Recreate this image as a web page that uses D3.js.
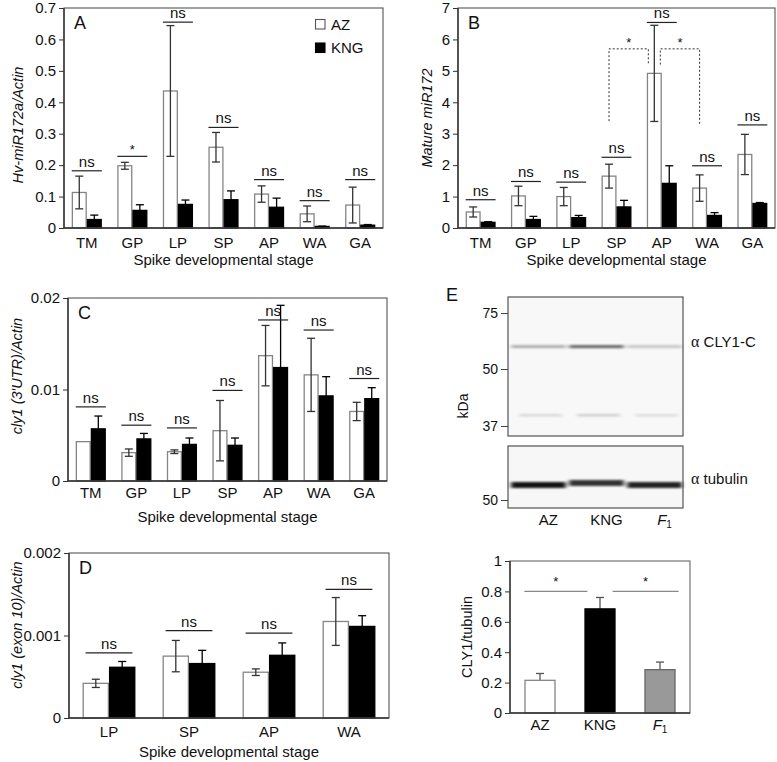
<!DOCTYPE html>
<html><head><meta charset="utf-8">
<script src="https://cdn.jsdelivr.net/npm/d3@7"></script>
<style>
body{margin:0;background:#fff;}
svg{display:block;font-family:'Liberation Sans',Arial,Helvetica,sans-serif;}
</style></head>
<body><svg id="c" width="777" height="762"></svg>
<script>
// ---------------- DATA ----------------
const stages7 = ["TM","GP","LP","SP","AP","WA","GA"];
const stages4 = ["LP","SP","AP","WA"];
const genotypes = ["AZ","KNG"];

// Panel A: Hv-miR172a/Actin
const aAZ     = [0.113,0.198,0.436,0.257,0.108,0.045,0.073];
const aAZse   = [0.052,0.011,0.208,0.047,0.026,0.025,0.057];
const aKNG    = [0.027,0.056,0.075,0.090,0.066,0.005,0.009];
const aKNGse  = [0.014,0.018,0.014,0.028,0.029,0.001,0.002];
const aSigY   = [0.182,0.228,0.655,0.32,0.154,0.087,0.154];
const aSig    = ["ns","*","ns","ns","ns","ns","ns"];
const aTicks  = [0,0.1,0.2,0.3,0.4,0.5,0.6,0.7];

// Panel B: Mature miR172
const bAZ     = [0.51,1.02,1.00,1.65,4.92,1.27,2.34];
const bAZse   = [0.16,0.31,0.29,0.38,1.53,0.42,0.64];
const bKNG    = [0.18,0.27,0.33,0.67,1.42,0.40,0.78];
const bKNGse  = [0.02,0.10,0.07,0.21,0.56,0.09,0.03];
const bSigY   = [0.90,1.48,1.46,2.25,6.54,1.98,3.28];
const bSig    = ["ns","ns","ns","ns","ns","ns","ns"];
const bTicks  = [0,1,2,3,4,5,6,7];
// dotted brackets (AZ comparisons): [from, to, lowFrom, lowTo, top, label]
const bBrackets = [["SP","AP",3.4,5.2,5.7,"*"],["AP","WA",5.2,3.3,5.7,"*"]];

// Panel C: cly1 (3'UTR)/Actin
const cAZ     = [0.0043,0.0031,0.0032,0.0055,0.0137,0.0116,0.0076];
const cAZse   = [0,0.0004,0.0002,0.0033,0.0033,0.0040,0.0010];
const cKNG    = [0.0057,0.0046,0.0040,0.0039,0.0124,0.0093,0.0090];
const cKNGse  = [0.0014,0.0006,0.0007,0.0008,0.0068,0.0021,0.0012];
const cSigY   = [0.0081,0.0061,0.0058,0.0099,0.0176,0.0165,0.0112];
const cSig    = ["ns","ns","ns","ns","ns","ns","ns"];
const cTicks  = [0,0.01,0.02];

// Panel D: cly1 (exon 10)/Actin
const dAZ     = [0.00042,0.00075,0.000555,0.00117];
const dAZse   = [0.00005,0.00019,0.00004,0.00029];
const dKNG    = [0.000615,0.00066,0.00076,0.00111];
const dKNGse  = [0.00007,0.00016,0.00015,0.00013];
const dSigY   = [0.00079,0.00106,0.00103,0.00156];
const dSig    = ["ns","ns","ns","ns"];
const dTicks  = [0,0.001,0.002];

// Panel E: western blot + quantification
const lanes       = ["AZ","KNG","F1"];
const band60      = [0.30,0.60,0.20];   // CLY1-C band intensity
const band39      = [0.14,0.18,0.12];   // lower faint band
const bandTub     = [0.92,0.80,0.86];   // tubulin band
const kdaTicksTop = [75,50,37];
const kdaTicksBot = [50];
const eVal   = [0.215,0.685,0.285];
const eSe    = [0.045,0.075,0.050];
const eTicks = [0,0.2,0.4,0.6,0.8,1];
const eSig   = [["AZ","KNG",0.8,"*"],["KNG","F1",0.8,"*"]];

// ---------------- DRAWING ----------------
const svg = d3.select("#c");
const FS = 15;
const fmt = d3.format("~g");

function frame(g,x0,x1,y0,y1,col){
  g.append("rect").attr("x",x0).attr("y",y0).attr("width",x1-x0).attr("height",y1-y0)
   .attr("fill","none").attr("stroke",col||"#555").attr("stroke-width",1.1);
  g.append("line").attr("x1",x0).attr("x2",x0).attr("y1",y0).attr("y2",y1).attr("stroke","#333").attr("stroke-width",1.4);
  g.append("line").attr("x1",x0).attr("x2",x1).attr("y1",y1).attr("y2",y1).attr("stroke","#333").attr("stroke-width",1.4);
}

function yAxis(g,y,x0,ticks,fmtf){
  const ax = g.append("g").attr("transform",`translate(${x0},0)`)
   .call(d3.axisLeft(y).tickValues(ticks).tickFormat(fmtf||fmt).tickSize(5).tickPadding(3));
  ax.select(".domain").remove();
  ax.selectAll("line").attr("stroke","#333");
  ax.selectAll("text").attr("font-size",FS).attr("fill","#111");
  ax.attr("font-family",null).attr("font-size",null);
}

function xAxis(g,x,y1,pad){
  const ax = g.append("g").attr("transform",`translate(0,${y1})`)
   .call(d3.axisBottom(x).tickSize(0).tickPadding(pad));
  ax.select(".domain").remove();
  ax.selectAll("text").attr("font-size",FS).attr("fill","#111");
  ax.attr("font-family",null).attr("font-size",null);
  return ax;
}

function rotLabel(g,text,x,y,italic,fs){
  g.append("text").attr("transform",`translate(${x},${y}) rotate(-90)`)
   .attr("text-anchor","middle").attr("font-size",fs||FS).attr("fill","#111")
   .attr("font-style",italic?"italic":"normal").text(text);
}

function groupedPanel(o){
  const g = svg.append("g");
  const x = d3.scaleBand().domain(o.cats).range([o.x0,o.x1]).paddingInner(0.34).paddingOuter(0.17);
  const sub = d3.scaleBand().domain(genotypes).range([0,x.bandwidth()]);
  const y = d3.scaleLinear().domain([0,o.yMax]).range([o.y1,o.y0]);
  const series = [[o.az,o.azSe,"#fff","#858585","#333"],[o.kng,o.kngSe,"#000","#000","#000"]];
  series.forEach((s,si)=>{
    const gen = genotypes[si];
    o.cats.forEach((c,i)=>{
      const bx = x(c)+sub(gen), bw = sub.bandwidth();
      g.append("rect").attr("x",bx+0.6).attr("y",y(s[0][i])).attr("width",bw-1.2)
        .attr("height",o.y1-y(s[0][i])).attr("fill",s[2]).attr("stroke",s[3]).attr("stroke-width",1.3);
    });
  });
  series.forEach((s,si)=>{
    const gen = genotypes[si];
    o.cats.forEach((c,i)=>{
      const cx = x(c)+sub(gen)+sub.bandwidth()/2;
      const m = s[0][i], e = s[1][i];
      if(e<=0) return;
      const ee = g.append("g").attr("stroke",s[4]).attr("stroke-width",1.3);
      ee.append("line").attr("x1",cx).attr("x2",cx).attr("y1",y(m-e)).attr("y2",y(m+e));
      [m-e,m+e].forEach(v=>ee.append("line").attr("x1",cx-4).attr("x2",cx+4).attr("y1",y(v)).attr("y2",y(v)));
    });
  });
  // significance
  o.cats.forEach((c,i)=>{
    const yy = y(o.sigY[i]);
    g.append("line").attr("x1",x(c)+o.inset).attr("x2",x(c)+x.bandwidth()-o.inset)
     .attr("y1",yy).attr("y2",yy).attr("stroke","#222").attr("stroke-width",1.2);
    const star = o.sig[i]==="*";
    g.append("text").attr("x",x(c)+x.bandwidth()/2).attr("y",star?yy-2:yy-4)
     .attr("text-anchor","middle").attr("font-size",star?13:FS).attr("fill","#111").text(o.sig[i]);
  });
  frame(g,o.x0,o.x1,o.y0,o.y1);
  yAxis(g,y,o.x0,o.ticks);
  xAxis(g,x,o.y1,o.xpad);
  g.append("text").attr("x",(o.x0+o.x1)/2).attr("y",o.titleY).attr("text-anchor","middle")
   .attr("font-size",FS).attr("fill","#111").text("Spike developmental stage");
  rotLabel(g,o.yLabel,o.labX,o.labY,true,14.5);
  g.append("text").attr("x",o.x0+10).attr("y",o.y0+21).attr("font-size",18).attr("fill","#111").text(o.letter);
  return {g,x,y,sub};
}

// A
const A = groupedPanel({cats:stages7,az:aAZ,azSe:aAZse,kng:aKNG,kngSe:aKNGse,sigY:aSigY,sig:aSig,
  x0:64,x1:383,y0:8,y1:228,yMax:0.7,ticks:aTicks,xpad:9,titleY:265,yLabel:"Hv-miR172a/Actin",
  labX:23,labY:125,letter:"A",inset:0});
// legend
[["AZ","#fff","#555"],["KNG","#000","#000"]].forEach((l,i)=>{
  A.g.append("rect").attr("x",315.5).attr("y",19.5+i*23.5).attr("width",9.5).attr("height",9.5)
   .attr("fill",l[1]).attr("stroke",l[2]).attr("stroke-width",1.1);
  A.g.append("text").attr("x",331).attr("y",29.5+i*23.5).attr("font-size",FS).attr("fill","#111").text(l[0]);
});

// B
const B = groupedPanel({cats:stages7,az:bAZ,azSe:bAZse,kng:bKNG,kngSe:bKNGse,sigY:bSigY,sig:bSig,
  x0:458,x1:775,y0:8,y1:228,yMax:7,ticks:bTicks,xpad:9,titleY:265,yLabel:"Mature miR172",
  labX:432,labY:118,letter:"B",inset:0});
bBrackets.forEach((b,bi)=>{
  const cx = c=>B.x(c)+B.sub("AZ")+B.sub.bandwidth()/2;
  const xa = bi===0 ? cx(b[0]) : cx(b[0])+6;
  const xb = bi===0 ? cx(b[1])-6 : cx(b[1]);
  const pts = [[xa,B.y(b[2])],[xa,B.y(b[4])],[xb,B.y(b[4])],[xb,B.y(b[3])]];
  B.g.append("path").attr("d",d3.line()(pts)).attr("fill","none").attr("stroke","#333")
   .attr("stroke-width",1).attr("stroke-dasharray","2,2");
  B.g.append("text").attr("x",(xa+xb)/2).attr("y",B.y(b[4])-2).attr("text-anchor","middle")
   .attr("font-size",13).attr("fill","#111").text(b[5]);
});

// C
groupedPanel({cats:stages7,az:cAZ,azSe:cAZse,kng:cKNG,kngSe:cKNGse,sigY:cSigY,sig:cSig,
  x0:68,x1:387,y0:298,y1:481,yMax:0.02,ticks:cTicks,xpad:6,titleY:522,yLabel:"cly1 (3\u2032UTR)/Actin",
  labX:22,labY:376,letter:"C",inset:0});

// D
groupedPanel({cats:stages4,az:dAZ,azSe:dAZse,kng:dKNG,kngSe:dKNGse,sigY:dSigY,sig:dSig,
  x0:69,x1:389,y0:553,y1:718,yMax:0.002,ticks:dTicks,xpad:8,titleY:757,yLabel:"cly1 (exon 10)/Actin",
  labX:22,labY:625,letter:"D",inset:3});

// ---------------- Panel E: blot ----------------
const E = svg.append("g");
const defs = svg.append("defs");
defs.append("filter").attr("id","blur").attr("x","-20%").attr("y","-200%").attr("width","140%").attr("height","500%")
  .append("feGaussianBlur").attr("stdDeviation","2.2 1.1");
E.append("text").attr("x",446).attr("y",301).attr("font-size",18).attr("fill","#111").text("E");
const bx0=508,bx1=683;
const kdaTop = d3.scaleLinear().domain([37,50,75]).range([426,369,313]);
const laneX = d3.scaleBand().domain(lanes).range([bx0+2,bx1]).paddingInner(0.06).paddingOuter(0.02);
// upper membrane
E.append("rect").attr("x",bx0).attr("y",297).attr("width",bx1-bx0).attr("height",139).attr("fill","#f8f8f8");
const bandsTop = E.append("g").attr("filter","url(#blur)");
lanes.forEach((l,i)=>{
  bandsTop.append("rect").attr("x",laneX(l)).attr("y",kdaTop(60)-1.5).attr("width",laneX.bandwidth())
   .attr("height",3).attr("fill","#000").attr("opacity",band60[i]);
  bandsTop.append("rect").attr("x",laneX(l)+8).attr("y",kdaTop(39.5)-1).attr("width",laneX.bandwidth()-12)
   .attr("height",2.4).attr("fill","#000").attr("opacity",band39[i]);
});
E.append("rect").attr("x",bx0).attr("y",297).attr("width",bx1-bx0).attr("height",139)
  .attr("fill","none").attr("stroke","#444").attr("stroke-width",1.1);
// lower membrane
const kdaBot = d3.scaleLinear().domain([50,55]).range([500,485]);
E.append("rect").attr("x",bx0).attr("y",446).attr("width",bx1-bx0).attr("height",62).attr("fill","#f7f7f7");
const bandsBot = E.append("g").attr("filter","url(#blur)");
lanes.forEach((l,i)=>{
  bandsBot.append("rect").attr("x",laneX(l)).attr("y",kdaBot(55)-(i===1?5:3)).attr("width",laneX.bandwidth())
   .attr("height",6).attr("fill","#000").attr("opacity",bandTub[i]);
});
E.append("rect").attr("x",bx0).attr("y",446).attr("width",bx1-bx0).attr("height",62)
  .attr("fill","none").attr("stroke","#444").attr("stroke-width",1.1);
// kDa ticks
function kdaAxis(scale,ticks){
  const ax = E.append("g").attr("transform",`translate(${bx0},0)`)
    .call(d3.axisLeft(scale).tickValues(ticks).tickFormat(d3.format("d")).tickSize(7).tickPadding(3));
  ax.select(".domain").remove();
  ax.selectAll("line").attr("stroke","#444");
  ax.selectAll("text").attr("font-size",14).attr("fill","#111");
  ax.attr("font-family",null).attr("font-size",null);
}
kdaAxis(kdaTop,kdaTicksTop);
kdaAxis(kdaBot,kdaTicksBot);
rotLabel(E,"kDa",468,406,false,14);
function alphaLabel(txt,x,y){
  const t=E.append("text").attr("x",x).attr("y",y).attr("font-size",FS).attr("fill","#111");
  t.append("tspan").attr("font-family","'Liberation Serif','Times New Roman',serif").attr("font-size",16).text("\u03b1");
  t.append("tspan").text(" "+txt);
}
alphaLabel("CLY1-C",691,347);
alphaLabel("tubulin",691,484);
function laneLabel(g,l,x,y){
  const t=g.append("text").attr("x",x).attr("y",y).attr("text-anchor","middle").attr("font-size",FS).attr("fill","#111");
  if(l==="F1"){t.append("tspan").attr("font-style","italic").text("F");
    t.append("tspan").attr("font-size",10).attr("dy",3).text("1");}
  else t.text(l);
}
lanes.forEach(l=>laneLabel(E,l,laneX(l)+laneX.bandwidth()/2+10,525));

// ---------------- Panel E: quantification ----------------
const Q = svg.append("g");
const qx0=510,qx1=690,qy0=561,qy1=713;
const qx = d3.scaleBand().domain(lanes).range([qx0,qx1]).paddingInner(0.48).paddingOuter(0.24);
const qy = d3.scaleLinear().domain([0,1]).range([qy1,qy0]);
const qFill = ["#fff","#000","#999"], qStroke=["#858585","#000","#666"];
lanes.forEach((l,i)=>{
  const cx=qx(l)+qx.bandwidth()/2;
  Q.append("line").attr("x1",cx).attr("x2",cx).attr("y1",qy(eVal[i])).attr("y2",qy(eVal[i]+eSe[i])).attr("stroke","#555").attr("stroke-width",1.3);
  Q.append("line").attr("x1",cx-4).attr("x2",cx+4).attr("y1",qy(eVal[i]+eSe[i])).attr("y2",qy(eVal[i]+eSe[i])).attr("stroke","#555").attr("stroke-width",1.3);
  Q.append("rect").attr("x",qx(l)+0.6).attr("y",qy(eVal[i])).attr("width",qx.bandwidth()-1.2)
   .attr("height",qy1-qy(eVal[i])).attr("fill",qFill[i]).attr("stroke",qStroke[i]).attr("stroke-width",1.3);
});
eSig.forEach((s,si)=>{
  const xa = si===0 ? qx(s[0]) : qx(s[0])+qx.bandwidth()-3;
  const xb = si===0 ? qx(s[1])+3 : qx(s[1])+qx.bandwidth()+3;
  Q.append("line").attr("x1",xa).attr("x2",xb).attr("y1",qy(s[2])).attr("y2",qy(s[2])).attr("stroke","#888").attr("stroke-width",1.3);
  Q.append("text").attr("x",(xa+xb)/2).attr("y",qy(s[2])-5).attr("text-anchor","middle").attr("font-size",13).attr("fill","#111").text(s[3]);
});
frame(Q,qx0,qx1,qy0,qy1,"#666");
yAxis(Q,qy,qx0,eTicks);
const qax = Q.append("g");
lanes.forEach(l=>laneLabel(qax,l,qx(l)+qx.bandwidth()/2,730));
rotLabel(Q,"CLY1/tubulin",472,637,false,14.5);
</script></body></html>
